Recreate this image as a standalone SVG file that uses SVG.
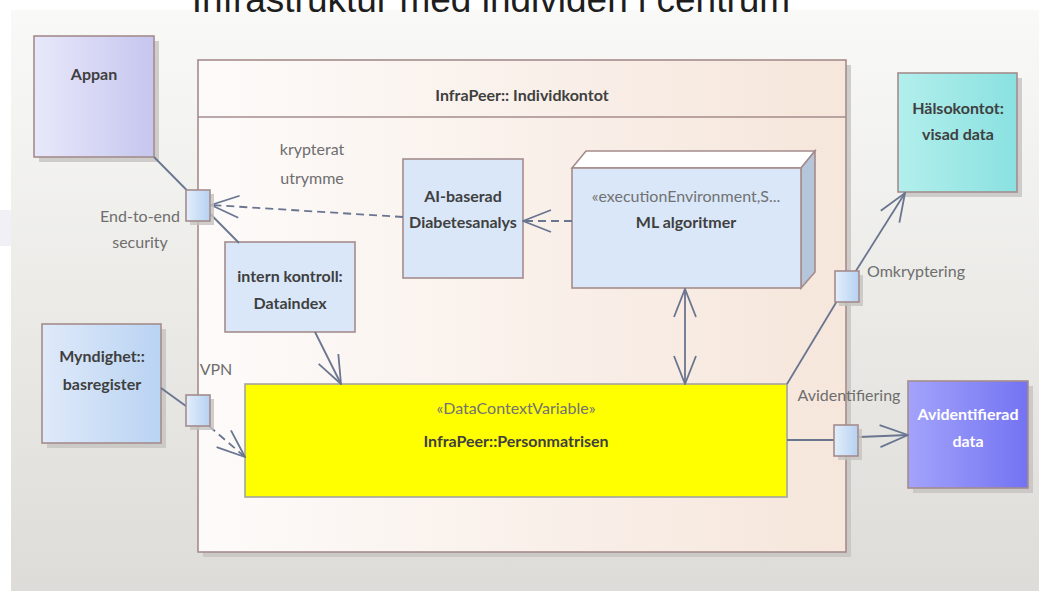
<svg xmlns="http://www.w3.org/2000/svg" width="1039" height="591" viewBox="0 0 1039 591">
<defs>
<linearGradient id="bg" x1="0" y1="0" x2="0" y2="1"><stop offset="0" stop-color="#f9f9f7"/><stop offset="1" stop-color="#dddcd8"/></linearGradient>
<linearGradient id="cont" x1="0" y1="0" x2="1" y2="0"><stop offset="0" stop-color="#fdfbfa"/><stop offset="1" stop-color="#f6e6db"/></linearGradient>
<linearGradient id="lav" x1="0" y1="0" x2="1" y2="0"><stop offset="0" stop-color="#e8e8fb"/><stop offset="1" stop-color="#c6c6ef"/></linearGradient>
<linearGradient id="blue" x1="0" y1="0" x2="1" y2="0"><stop offset="0" stop-color="#dfeafa"/><stop offset="1" stop-color="#b9d3f2"/></linearGradient>
<linearGradient id="port" x1="0" y1="0" x2="1" y2="0"><stop offset="0" stop-color="#e3eefb"/><stop offset="1" stop-color="#b6d1f2"/></linearGradient>
<linearGradient id="cyan" x1="0" y1="0" x2="1" y2="0"><stop offset="0" stop-color="#b2efec"/><stop offset="1" stop-color="#8ae1e1"/></linearGradient>
<linearGradient id="violet" x1="0" y1="0" x2="1" y2="0"><stop offset="0" stop-color="#a3a3fb"/><stop offset="1" stop-color="#7373f3"/></linearGradient>
<marker id="open" viewBox="0 0 30 24" refX="29" refY="12" markerWidth="30" markerHeight="24" markerUnits="userSpaceOnUse" orient="auto-start-reverse">
<path d="M1,1 L29,12 L1,23" fill="none" stroke="#6a7590" stroke-width="1.8"/>
</marker>
</defs>
<style>
.shadow{fill:#c4c3c0;opacity:0.8}
.box{stroke:#a48c8c;stroke-width:1.6}
.port{fill:url(#port);stroke:#a48c8c;stroke-width:1.6}
.lbl{font-family:Lato,"Open Sans",sans-serif;font-weight:bold;font-size:16px;fill:#3f3f3f;text-anchor:middle}
.ster{font-family:Lato,"Open Sans",sans-serif;font-size:16px;fill:#727272;text-anchor:middle}
.elbl{font-family:Lato,"Open Sans",sans-serif;font-size:16px;fill:#6e6e6e;text-anchor:middle}
.ln{fill:none;stroke:#6a7590;stroke-width:1.8}
.dash{stroke-dasharray:8,5}
</style>
<rect x="0" y="0" width="1039" height="591" fill="#ffffff"/>
<rect x="0" y="210" width="11" height="36" fill="#f1f0f7"/>
<rect x="11" y="10" width="1028" height="581" fill="url(#bg)"/>
<text x="491" y="12" font-family="Liberation Sans,Arial,sans-serif" font-size="37" fill="#1e1e1e" text-anchor="middle">Infrastruktur med individen i centrum</text>

<g id="individkontot">
<rect class="shadow" x="203" y="65" width="648" height="492"/>
<rect class="box" x="198" y="60" width="648" height="492" fill="url(#cont)"/>
<line x1="198" y1="117" x2="846" y2="117" stroke="#a48c8c" stroke-width="1.6"/>
<text class="lbl" x="522" y="101">InfraPeer:: Individkontot</text>
</g>

<g id="appan">
<rect class="shadow" x="39" y="41" width="120" height="121"/>
<rect class="box" x="34" y="36" width="120" height="121" fill="url(#lav)"/>
<text class="lbl" x="94" y="80">Appan</text>
</g>

<g id="myndighet">
<rect class="shadow" x="47" y="329" width="119" height="119"/>
<rect class="box" x="42" y="324" width="119" height="119" fill="url(#blue)"/>
<text class="lbl" x="102" y="362">Myndighet::</text>
<text class="lbl" x="102" y="390">basregister</text>
</g>

<g id="halsokontot">
<rect class="shadow" x="903" y="78" width="119" height="119"/>
<rect class="box" x="898" y="73" width="119" height="119" fill="url(#cyan)"/>
<text class="lbl" x="958" y="114">Hälsokontot:</text>
<text class="lbl" x="958" y="140">visad data</text>
</g>

<g id="avidentifierad">
<rect class="shadow" x="913" y="386" width="120" height="107"/>
<rect class="box" x="908" y="381" width="120" height="107" fill="url(#violet)"/>
<text class="lbl" x="968" y="420" style="fill:#ffffff">Avidentifierad</text>
<text class="lbl" x="968" y="447" style="fill:#ffffff">data</text>
</g>

<g id="ai-baserad">
<rect class="box" x="403" y="159" width="120" height="119" fill="#d9e7f9"/>
<text class="lbl" x="463" y="202">AI-baserad</text>
<text class="lbl" x="463" y="228">Diabetesanalys</text>
</g>

<g id="ml-algoritmer">
<polygon class="box" points="572,168 586,151 815,151 801,168" fill="#ffffff"/>
<polygon class="box" points="801,168 815,151 815,272 801,288" fill="#b6c6da"/>
<rect class="box" x="572" y="168" width="229" height="120" fill="#d9e7f9"/>
<text class="ster" x="686" y="202">«executionEnvironment,S...</text>
<text class="lbl" x="686" y="228">ML algoritmer</text>
</g>

<g id="intern-kontroll">
<rect class="box" x="225" y="242" width="130" height="90" fill="#d9e7f9"/>
<text class="lbl" x="290" y="282">intern kontroll:</text>
<text class="lbl" x="290" y="309">Dataindex</text>
</g>

<g id="personmatrisen">
<rect x="245" y="384" width="542" height="113" fill="#ffff00" stroke="#a3a3a0" stroke-width="1.6"/>
<text class="ster" x="516" y="414">«DataContextVariable»</text>
<text class="lbl" x="516" y="447">InfraPeer::Personmatrisen</text>
</g>

<g id="connectors">
<line class="ln" x1="154" y1="157" x2="239" y2="243"/>
<line class="ln dash" x1="403" y1="217" x2="211" y2="205" marker-end="url(#open)"/>
<line class="ln dash" x1="572" y1="221" x2="523" y2="221" marker-end="url(#open)"/>
<line class="ln" x1="315" y1="332" x2="341" y2="384" marker-end="url(#open)"/>
<line class="ln" x1="685" y1="289" x2="685" y2="384" marker-start="url(#open)" marker-end="url(#open)"/>
<line class="ln" x1="161" y1="388" x2="190" y2="409"/>
<line class="ln dash" x1="209" y1="426" x2="245" y2="457" marker-end="url(#open)"/>
<line class="ln" x1="787" y1="384" x2="840" y2="296"/>
<line class="ln" x1="854" y1="274" x2="905" y2="193" marker-end="url(#open)"/>
<line class="ln" x1="787" y1="440" x2="836" y2="440"/>
<line class="ln" x1="859" y1="437" x2="908" y2="435" marker-end="url(#open)"/>
</g>

<g id="port-e2e">
<rect class="shadow" x="190" y="194" width="24" height="31"/>
<rect class="port" x="186" y="190" width="24" height="31"/>
<text class="elbl" x="140" y="222">End-to-end</text>
<text class="elbl" x="140" y="248">security</text>
</g>
<g id="port-vpn">
<rect class="shadow" x="190" y="399" width="24" height="31"/>
<rect class="port" x="186" y="395" width="24" height="31"/>
<text class="elbl" x="216" y="375">VPN</text>
</g>
<g id="port-omkryptering">
<rect class="shadow" x="839" y="275" width="24" height="31"/>
<rect class="port" x="835" y="271" width="24" height="31"/>
<text class="elbl" x="916" y="277">Omkryptering</text>
</g>
<g id="port-avidentifiering">
<rect class="shadow" x="838" y="429" width="24" height="31"/>
<rect class="port" x="834" y="425" width="24" height="31"/>
<text class="elbl" x="849" y="401">Avidentifiering</text>
</g>
<g id="label-krypterat">
<text class="elbl" x="312" y="155">krypterat</text>
<text class="elbl" x="312" y="184">utrymme</text>
</g>
</svg>
